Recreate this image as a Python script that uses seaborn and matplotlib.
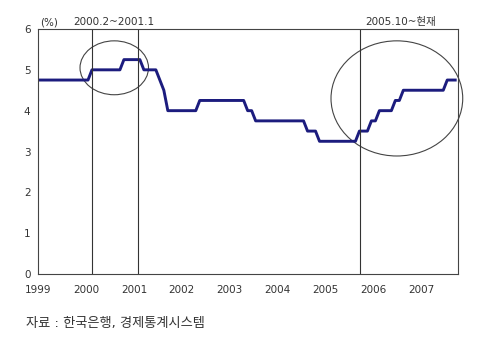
import numpy as np
import pandas as pd
import seaborn as sns
import matplotlib
matplotlib.use('Agg')
import matplotlib.pyplot as plt
from matplotlib.patches import Ellipse

# 월별 콜금리 목표 (%), 1999.1 ~ 2007.9
rate_1999 = [4.75, 4.75, 4.75, 4.75, 4.75, 4.75, 4.75, 4.75, 4.75, 4.75, 4.75, 4.75]
rate_2000 = [4.75, 5.00, 5.00, 5.00, 5.00, 5.00, 5.00, 5.00, 5.00, 5.25, 5.25, 5.25]
rate_2001 = [5.25, 5.25, 5.00, 5.00, 5.00, 5.00, 4.75, 4.50, 4.00, 4.00, 4.00, 4.00]
rate_2002 = [4.00, 4.00, 4.00, 4.00, 4.25, 4.25, 4.25, 4.25, 4.25, 4.25, 4.25, 4.25]
rate_2003 = [4.25, 4.25, 4.25, 4.25, 4.00, 4.00, 3.75, 3.75, 3.75, 3.75, 3.75, 3.75]
rate_2004 = [3.75, 3.75, 3.75, 3.75, 3.75, 3.75, 3.75, 3.50, 3.50, 3.50, 3.25, 3.25]
rate_2005 = [3.25, 3.25, 3.25, 3.25, 3.25, 3.25, 3.25, 3.25, 3.50, 3.50, 3.50, 3.75]
rate_2006 = [3.75, 4.00, 4.00, 4.00, 4.00, 4.25, 4.25, 4.50, 4.50, 4.50, 4.50, 4.50]
rate_2007 = [4.50, 4.50, 4.50, 4.50, 4.50, 4.50, 4.75, 4.75, 4.75]

years = [1999, 2000, 2001, 2002, 2003, 2004, 2005, 2006, 2007]
yearly = [rate_1999, rate_2000, rate_2001, rate_2002, rate_2003,
          rate_2004, rate_2005, rate_2006, rate_2007]

# 강조 구간
period_lines = [2000.12, 2001.09, 2005.71]
period_labels = ['2000.2~2001.1', '2005.10~현재']

source_text = '자료 : 한국은행, 경제통계시스템'

rows = []
for yr, vals in zip(years, yearly):
    for m, v in enumerate(vals, start=1):
        rows.append({'t': yr + (m - 0.5) / 12, 'rate': v})
df = pd.DataFrame(rows)

sns.set_style('white')
plt.rcParams['font.family'] = ['DejaVu Sans', 'Noto Sans CJK KR']

fig = plt.figure(figsize=(4.8, 3.44), dpi=100)
ax = fig.add_axes([38.1 / 480, 1 - 274 / 344, (457.7 - 38.1) / 480, (274 - 29) / 344])

sns.lineplot(data=df, x='t', y='rate', color='#1c1c7e', linewidth=2.1, ax=ax,
             solid_capstyle='projecting')

for xv in period_lines:
    ax.axvline(xv, color='#333333', linewidth=0.8)

ax.add_patch(Ellipse((2000.59, 5.05), 1.43, 1.32, fill=False,
                     edgecolor='#444444', linewidth=0.8, clip_on=False))
ax.add_patch(Ellipse((2006.49, 4.30), 2.75, 2.82, fill=False,
                     edgecolor='#444444', linewidth=0.8, clip_on=False))

ax.set_xlim(1999, 2007.76)
ax.set_ylim(0, 6)
ax.set_xticks(years)
ax.set_yticks([0, 1, 2, 3, 4, 5, 6])
ax.set_xlabel('')
ax.set_ylabel('')
ax.tick_params(direction='in', length=3, width=0.8, colors='#333333',
               labelsize=7.5)
ax.tick_params(axis='x', pad=8)
ax.tick_params(axis='y', pad=5.5)
for s in ax.spines.values():
    s.set_color('#444444')
    s.set_linewidth(0.8)

ax.text(1999.23, 6.17, '(%)', ha='center', va='center', fontsize=7.5,
        color='#333333', clip_on=False)
ax.text(2000.59, 6.17, period_labels[0], ha='center', va='center',
        fontsize=7.5, color='#333333', clip_on=False)
ax.text(2006.56, 6.17, period_labels[1], ha='center', va='center',
        fontsize=7.5, color='#333333', clip_on=False)

fig.text(26 / 480, 1 - 323 / 344, source_text, ha='left', va='center',
         fontsize=9.5, color='#333333')

fig.savefig('out.png', dpi=100)
